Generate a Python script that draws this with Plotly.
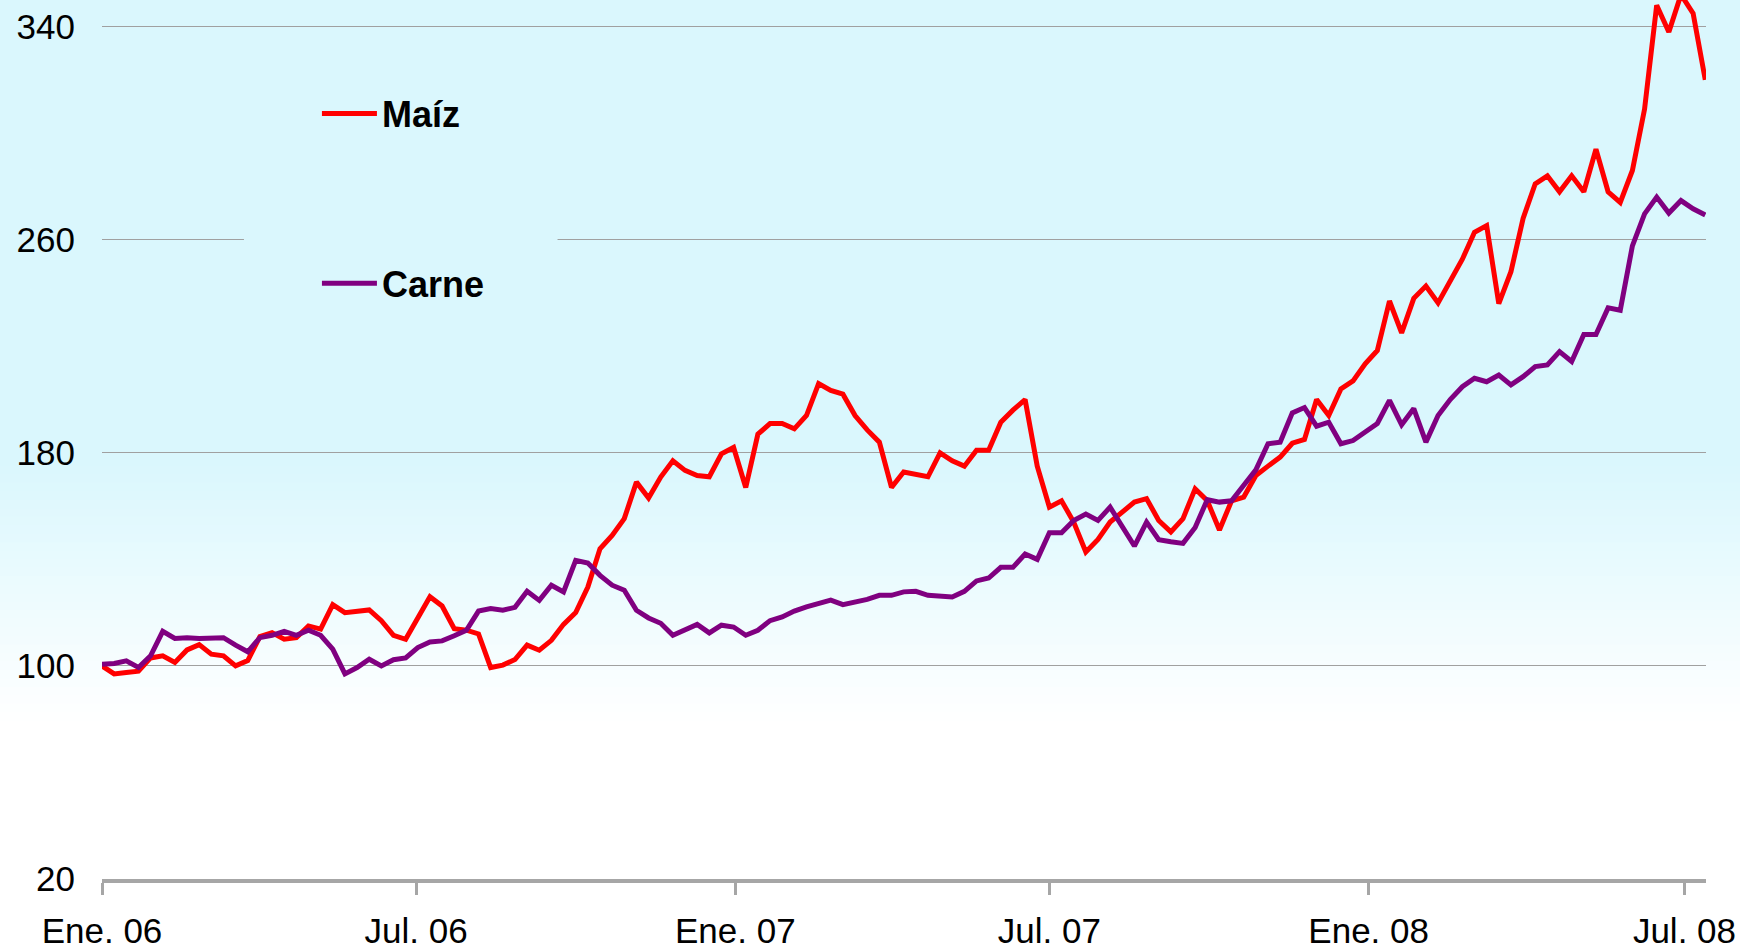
import pandas as pd
import plotly.graph_objects as go

# weekly readings, first week 2006-01-01
start_date = "2006-01-01"

maiz = [100, 97, 97.5, 98, 103, 103.8, 101.3, 106, 108, 104.4,
        103.8, 100, 102, 111, 112.5, 110, 110.6, 115, 113.8, 123,
        120, 120.6, 121, 117, 111.5, 110, 118, 126, 122.5, 114,
        113.4, 112, 99.4, 100.3, 102.4, 107.8, 105.9, 109.6, 115.6, 120,
        129.6, 144, 149, 155.3, 169, 163, 170.9, 177, 173.4, 171.5,
        171, 179.6, 182, 167, 187, 191, 191, 189, 194, 206,
        203.4, 202, 194, 188.6, 184, 167, 172.8, 172, 171, 180,
        177, 175, 181, 181, 191.5, 196, 200, 175, 159.6, 162,
        154, 142.8, 147.5, 154, 158, 161.5, 162.8, 154.6, 150.3, 155.3,
        166.5, 162, 151, 162, 163.4, 171.5, 175, 178.4, 183.6, 185,
        200, 194, 204, 207, 213.4, 218.4, 237, 225, 238, 242.6,
        236.3, 245, 252.7, 262.8, 265.3, 236, 248, 268, 281, 284,
        278, 284, 278, 294, 278, 274, 286, 309, 348, 338,
        352, 345, 320]

carne = [100.6, 100.9, 101.9, 99.4, 103.8, 113, 110.3, 110.6, 110.3, 110.6,
         110.6, 107.8, 105.3, 110.6, 111.5, 113, 111.5, 113.4, 111.5, 106.3,
         97, 99.4, 102.5, 100, 102.3, 103, 106.9, 109, 109.4, 111.3,
         113.4, 120.6, 121.5, 120.9, 122, 128, 124.6, 130.3, 127.8, 139.6,
         138.6, 134, 130.3, 128.4, 120.9, 118, 116, 111.5, 113.6, 115.6,
         112.4, 115.3, 114.6, 111.5, 113.4, 117, 118.4, 120.6, 122.2, 123.5,
         124.7, 123, 124, 125, 126.5, 126.5, 127.8, 128, 126.5, 126,
         125.9, 128, 131.9, 133, 137, 137, 142, 140, 150, 150,
         154.6, 157, 154.6, 159.6, 152, 145, 154, 147.4, 146.6, 146,
         152, 162.4, 161.5, 162, 167.8, 173.6, 183.4, 184, 195, 197,
         190, 191.5, 183.4, 184.6, 187.8, 191, 199.7, 190.5, 196.6, 184,
         194, 200, 204.8, 208, 206.7, 209.2, 205.5, 208.6, 212.4, 213,
         218, 214.3, 224.4, 224.4, 234.4, 233.5, 257.7, 269.7, 276, 270,
         274.7, 271.6, 269.3]

dates = pd.date_range(start_date, periods=len(maiz), freq="7D")

tick_dates = ["2006-01-01", "2006-07-01", "2007-01-01", "2007-07-01", "2008-01-01", "2008-07-01"]
tick_text = ["Ene. 06", "Jul. 06", "Ene. 07", "Jul. 07", "Ene. 08", "Jul. 08"]
y_ticks = [20, 100, 180, 260, 340]

CYAN = (218, 247, 253)
FONT = "Liberation Sans, Arial, sans-serif"

fig = go.Figure()
fig.add_trace(go.Scatter(x=dates, y=maiz, name="Maíz", mode="lines",
                         line=dict(color="#FF0000", width=5), legendgroup="a"))
fig.add_trace(go.Scatter(x=dates, y=carne, name="Carne", mode="lines",
                         line=dict(color="#800080", width=5), legendgroup="b"))

# background: cyan fading to white towards the bottom
shapes = []
top, bottom, n = 0.47, 0.18, 30
for i in range(n):
    t = (i + 0.5) / n
    c = tuple(round(CYAN[j] + (255 - CYAN[j]) * t) for j in range(3))
    y1 = top - (top - bottom) * i / n
    y0 = top - (top - bottom) * (i + 1) / n - 0.002
    shapes.append(dict(type="rect", xref="paper", yref="paper", x0=-0.1, x1=1.1,
                       y0=y0, y1=y1, fillcolor="rgb(%d,%d,%d)" % c,
                       line=dict(width=0), layer="below"))
shapes.append(dict(type="rect", xref="paper", yref="paper", x0=-0.1, x1=1.1,
                   y0=-0.2, y1=bottom, fillcolor="white", line=dict(width=0), layer="below"))
# legend box hides the grid line behind it (no data passes there)
shapes.append(dict(type="rect", xref="paper", yref="y", x0=0.0885, x1=0.284,
                   y0=252, y1=268, fillcolor="rgb(%d,%d,%d)" % CYAN,
                   line=dict(width=0), layer="above"))

fig.update_layout(
    width=1740, height=951,
    margin=dict(l=102, r=34, t=0, b=72),
    paper_bgcolor="rgb(%d,%d,%d)" % CYAN,
    plot_bgcolor="rgba(0,0,0,0)",
    font=dict(family=FONT, size=35, color="black"),
    shapes=shapes,
    showlegend=True,
    legend=dict(x=0.134, y=0.905, xanchor="left", yanchor="top",
                bgcolor="rgba(0,0,0,0)", tracegroupgap=120, itemwidth=55,
                font=dict(family=FONT, size=36, color="black", weight="bold")),
    xaxis=dict(range=["2006-01-01", "2008-07-13 10:00"], tickvals=tick_dates, ticktext=tick_text,
               showgrid=False, zeroline=False, showline=True, linecolor="#A6A6A6", linewidth=4,
               ticks="outside", ticklen=12, tickwidth=3, tickcolor="#A6A6A6",
               ticklabelstandoff=6),
    yaxis=dict(range=[20, 350], tickvals=y_ticks, showgrid=True, gridcolor="#A0A0A0",
               gridwidth=1, zeroline=False, showline=False, ticklabelstandoff=26),
)

fig.write_html("out.html", config={"displayModeBar": False},
               post_script="document.body.style.margin='0';")
